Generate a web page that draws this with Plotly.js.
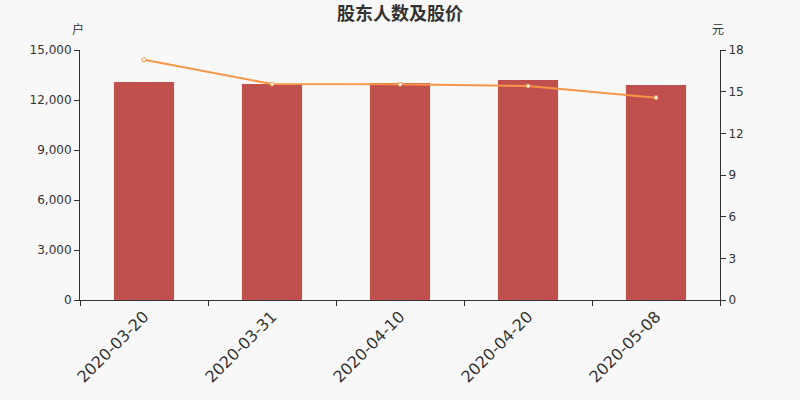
<!DOCTYPE html>
<html>
<head>
<meta charset="utf-8">
<script src="https://cdn.plot.ly/plotly-3.0.1.min.js"></script>
<style>html,body{margin:0;padding:0;background:#f8f8f8;}#chart{width:800px;height:400px;}</style>
</head>
<body>
<div id="chart"></div>
<script>
const categories = ["2020-03-20", "2020-03-31", "2020-04-10", "2020-04-20", "2020-05-08"];
const holders = [13080, 12960, 13020, 13200, 12900];
const prices = [17.30, 15.55, 15.53, 15.41, 14.57];
const leftTicks = [0, 3000, 6000, 9000, 12000, 15000];
const leftTickText = ["0", "3,000", "6,000", "9,000", "12,000", "15,000"];
const rightTicks = [0, 3, 6, 9, 12, 15, 18];

const font = "DejaVu Sans, Noto Sans CJK SC, sans-serif";

const traces = [
  {
    type: "bar",
    x: categories,
    y: holders,
    marker: {color: "#c0504d"},
    width: 0.47,
    hoverinfo: "x+y",
    yaxis: "y"
  },
  {
    type: "scatter",
    mode: "lines+markers",
    x: categories,
    y: prices,
    yaxis: "y2",
    line: {color: "#f79646", width: 2},
    marker: {color: "#ffffff", size: 4, line: {color: "#f79646", width: 1}}
  }
];

const layout = {
  width: 800,
  height: 400,
  paper_bgcolor: "#f8f8f8",
  plot_bgcolor: "#f8f8f8",
  showlegend: false,
  margin: {l: 80, r: 80, t: 50, b: 100},
  font: {family: font, color: "#333333", size: 12},
  title: {text: "<b>股东人数及股价</b>", x: 0.5, xanchor: "center", y: 0.965, yanchor: "middle", font: {family: "Noto Sans CJK SC, sans-serif", size: 18, color: "#333333"}},
  xaxis: {
    type: "category",
    tickson: "boundaries",
    ticks: "outside",
    ticklen: 5,
    tickcolor: "#333333",
    showline: true,
    linecolor: "#333333",
    linewidth: 1,
    showgrid: false,
    tickangle: -45,
    tickfont: {size: 16, color: "#333333"},
    zeroline: false
  },
  yaxis: {
    range: [0, 15000],
    tickvals: leftTicks,
    ticktext: leftTickText,
    ticks: "outside",
    ticklen: 5,
    tickcolor: "#333333",
    showline: true,
    linecolor: "#333333",
    showgrid: false,
    zeroline: false,
    tickfont: {size: 12, color: "#333333"}
  },
  yaxis2: {
    overlaying: "y",
    side: "right",
    range: [0, 18],
    tickvals: rightTicks,
    ticks: "outside",
    ticklen: 5,
    tickcolor: "#333333",
    showline: true,
    linecolor: "#333333",
    showgrid: false,
    zeroline: false,
    tickfont: {size: 12, color: "#333333"}
  },
  annotations: [
    {text: "户", xref: "paper", yref: "paper", x: -0.003, y: 1.085, xanchor: "center", yanchor: "middle", showarrow: false, font: {family: "Noto Sans CJK SC, sans-serif", size: 12, color: "#333333"}},
    {text: "元", xref: "paper", yref: "paper", x: 0.997, y: 1.085, xanchor: "center", yanchor: "middle", showarrow: false, font: {family: "Noto Sans CJK SC, sans-serif", size: 12, color: "#333333"}}
  ]
};

Plotly.newPlot("chart", traces, layout, {displayModeBar: false, staticPlot: true});
</script>
</body>
</html>
